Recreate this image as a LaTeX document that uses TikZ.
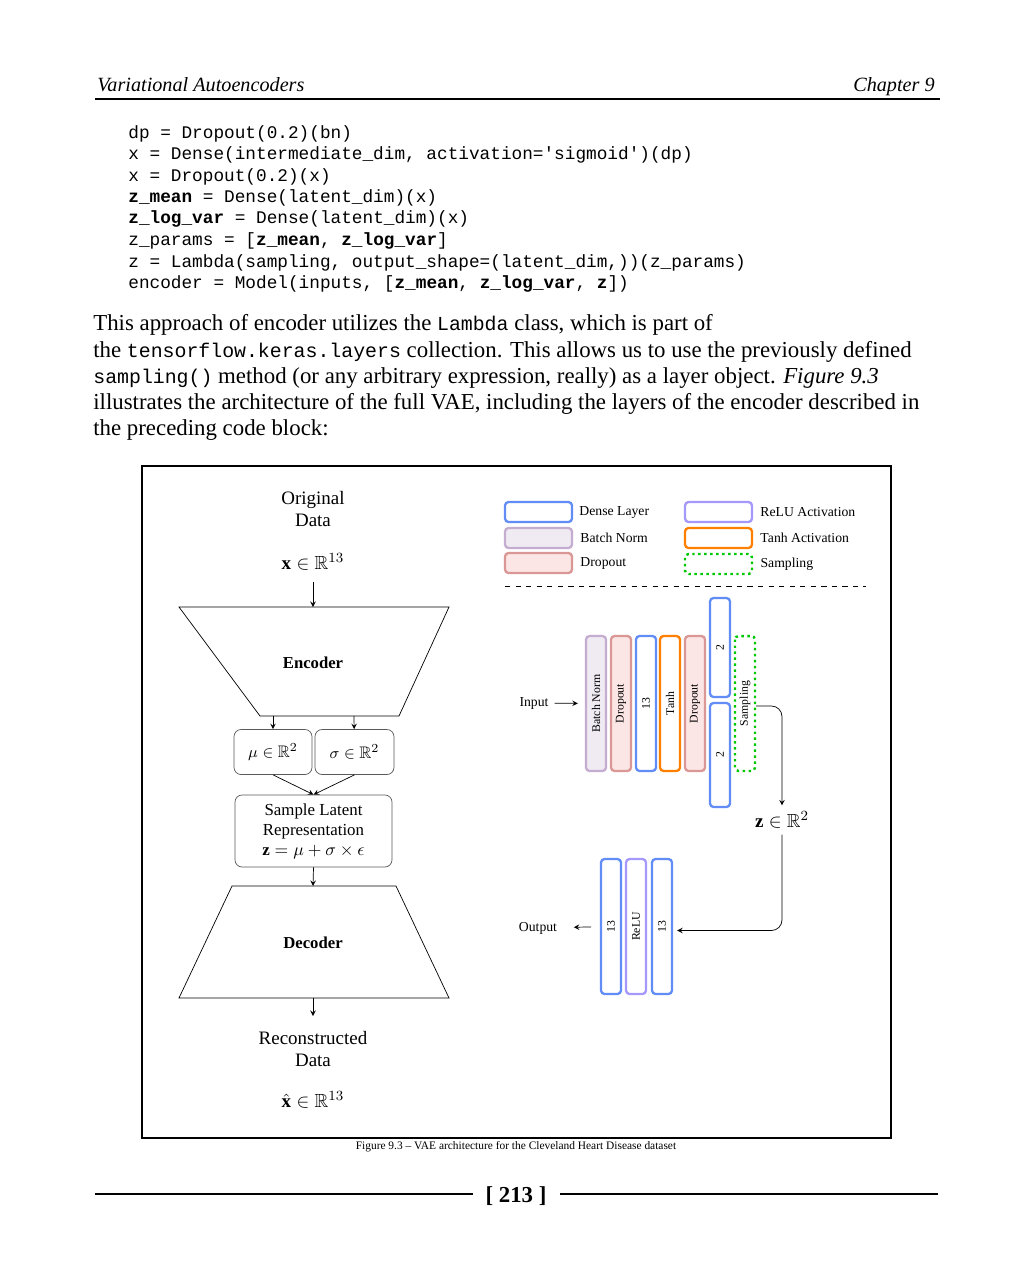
\documentclass[tikz,border=0pt]{standalone}
\usepackage{amsmath}
\usepackage{amssymb}
\usepackage{fontspec}
\setmainfont{Liberation Serif}
\setmonofont{Liberation Mono}
\usetikzlibrary{arrows,shapes,positioning}
\usepackage{xcolor}
\definecolor{vaeblue}{RGB}{99,141,246}
\definecolor{vaepurple}{RGB}{164,152,250}
\definecolor{vaeorange}{RGB}{255,128,0}
\definecolor{vaegreen}{RGB}{0,200,0}
\definecolor{bnstroke}{RGB}{196,173,208}
\definecolor{bnfill}{RGB}{240,235,243}
\definecolor{dpstroke}{RGB}{218,151,149}
\definecolor{dpfill}{RGB}{251,230,229}
\definecolor{boxgray}{RGB}{90,90,90}
\newcommand{\bodyfont}{\fontsize{13}{15}\selectfont}
\newcommand{\bodymono}{\fontsize{11.3}{15}\selectfont\ttfamily}
\newcommand{\codefont}{\fontsize{10.1}{12}\selectfont\ttfamily}
\newcommand{\figfont}{\fontsize{10.8}{13}\selectfont}
\newcommand{\colfont}{\fontsize{6.7}{8}\selectfont}
\newcommand{\lgfont}{\fontsize{7.8}{9}\selectfont}
\tikzstyle{flow} = [->,>=stealth]
\tikzstyle{bodyline} = [anchor=base west, inner sep=0pt, font=\bodyfont]
\tikzstyle{codeline} = [anchor=base west, inner sep=0pt, font=\codefont]
\tikzstyle{denselayer} = [draw=vaeblue, line width=1.3pt, rounded corners=2pt]
\tikzstyle{relulayer} = [draw=vaepurple, line width=1.3pt, rounded corners=2pt]
\tikzstyle{tanhlayer} = [draw=vaeorange, line width=1.3pt, rounded corners=2pt]
\tikzstyle{bnlayer} = [draw=bnstroke, fill=bnfill, line width=1.3pt, rounded corners=2pt]
\tikzstyle{droplayer} = [draw=dpstroke, fill=dpfill, line width=1.3pt, rounded corners=2pt]
\tikzstyle{samplayer} = [draw=vaegreen, line width=1.4pt, dash pattern=on 1.4pt off 2pt, rounded corners=2pt]
\tikzstyle{col} = [minimum width=2.7cm, minimum height=0.4cm, rotate=90, inner sep=0pt, font=\colfont]
\tikzstyle{lgbox} = [minimum width=1.34cm, minimum height=0.4cm]
\tikzstyle{lgtext} = [inner sep=0pt, font=\lgfont]
\tikzstyle{statbox} = [draw=boxgray, rounded corners=4pt, font=\fontsize{9.5}{11}\selectfont]

\begin{document}
\begin{tikzpicture}[x=0.02cm, y=-0.02cm]
\useasboundingbox[fill=white] (0,0) rectangle (1032,1278);

% Running head
\node[anchor=base west, inner sep=0pt, font=\fontsize{11.5}{13}\selectfont\itshape] (runhead) at (97,91) {Variational Autoencoders};
\node[anchor=base east, inner sep=0pt, font=\fontsize{11.5}{13}\selectfont\itshape] (chapter) at (935,91) {Chapter 9};
\draw[line width=0.8pt] (95,99) -- (940,99);

% Code block
\node[codeline] (code1) at (128,138) {dp = Dropout(0.2)(bn)};
\node[codeline] (code2) at (128,159) {x = Dense(intermediate\_dim, activation='sigmoid')(dp)};
\node[codeline] (code3) at (128,181) {x = Dropout(0.2)(x)};
\node[codeline] (code4) at (128,202) {\textbf{z\_mean} = Dense(latent\_dim)(x)};
\node[codeline] (code5) at (128,223) {\textbf{z\_log\_var} = Dense(latent\_dim)(x)};
\node[codeline] (code6) at (128,245) {z\_params = [\textbf{z\_mean}, \textbf{z\_log\_var}]};
\node[codeline] (code7) at (128,267) {z = Lambda(sampling, output\_shape=(latent\_dim,))(z\_params)};
\node[codeline] (code8) at (128,288) {encoder = Model(inputs, [\textbf{z\_mean}, \textbf{z\_log\_var}, \textbf{z}])};

% Paragraph
\node[bodyline] (para1) at (93,330) {This approach of encoder utilizes the {\bodymono Lambda} class, which is part of};
\node[bodyline] (para2) at (93,357) {the {\bodymono tensorflow.keras.layers} collection. This allows us to use the previously defined};
\node[bodyline] (para3) at (93,383) {{\bodymono sampling()} method (or any arbitrary expression, really) as a layer object. \textit{Figure 9.3}};
\node[bodyline] (para4) at (93,409) {illustrates the architecture of the full VAE, including the layers of the encoder described in};
\node[bodyline] (para5) at (93,435) {the preceding code block:};

% Figure frame
\draw[line width=1.2pt] (142,466) rectangle (891,1138);

% Left: encoder / decoder overview
\node[font=\figfont, align=center] (orig) at (313,509) {Original\\Data};
\node[font=\figfont] (xin) at (313,562) {$\mathbf{x}\in\mathbb{R}^{13}$};
\draw (179,607) -- (449,607) -- (399,716) -- (260,716) -- cycle;
\coordinate (enctop) at (313,607);
\coordinate (encmu) at (273,716);
\coordinate (encsig) at (354,716);
\node[font=\fontsize{9.5}{11}\selectfont\bfseries] (enc) at (313,663) {Encoder};
\draw[flow] ([yshift=-0.1cm]xin.south) -- (enctop);

\node[statbox, minimum width=1.56cm, minimum height=0.9cm] (mu) at (273,752) {$\mu\in\mathbb{R}^2$};
\node[statbox, minimum width=1.58cm, minimum height=0.9cm] (sig) at (354.5,752) {$\sigma\in\mathbb{R}^2$};
\draw[flow] (encmu) -- (mu);
\draw[flow] (encsig) -- (sig);

\node[statbox, minimum width=3.14cm, minimum height=1.44cm, align=center, font=\fontsize{9.6}{11.3}\selectfont] (sample) at (313.5,831) {Sample Latent\\Representation\\$\mathbf{z}=\mu+\sigma\times\epsilon$};
\draw[flow] (mu.south) -- (sample.north);
\draw[flow] (sig.south) -- (sample.north);

\draw (232,886) -- (396,886) -- (449,998) -- (179,998) -- cycle;
\coordinate (dectop) at (313,886);
\coordinate (decbot) at (313,998);
\node[font=\fontsize{9.5}{11}\selectfont\bfseries] (dec) at (313,943) {Decoder};
\draw[flow] (sample.south) -- (dectop);

\node[font=\figfont, align=center] (recon) at (313,1049) {Reconstructed\\Data};
\node[font=\figfont] (xhat) at (313,1100) {$\hat{\mathbf{x}}\in\mathbb{R}^{13}$};
\draw[flow] (decbot) -- (313,1016) coordinate (recontop);

% Legend
\node[denselayer, lgbox] (lgdense) at (538.5,512) {};
\node[bnlayer, lgbox] (lgbn) at (538.5,538) {};
\node[droplayer, lgbox] (lgdrop) at (538.5,563) {};
\node[relulayer, lgbox] (lgrelu) at (718.5,512) {};
\node[tanhlayer, lgbox] (lgtanh) at (718.5,538) {};
\node[samplayer, lgbox] (lgsamp) at (718.5,564) {};
\node[lgtext, right=0.12cm of lgdense] {Dense Layer};
\node[lgtext, right=0.14cm of lgbn] {Batch Norm};
\node[lgtext, right=0.14cm of lgdrop] {Dropout};
\node[lgtext, right=0.14cm of lgrelu] {ReLU Activation};
\node[lgtext, right=0.14cm of lgtanh] {Tanh Activation};
\node[lgtext, right=0.14cm of lgsamp] {Sampling};
\draw[dashed] (505,586) -- (866,586);

% Encoder layers
\node[bnlayer, col] (bn) at (596,703.5) {Batch Norm};
\node[droplayer, col] (drop1) at (621,703.5) {Dropout};
\node[denselayer, col] (dense13) at (646,703.5) {13};
\node[tanhlayer, col] (tanh) at (670,703.5) {Tanh};
\node[droplayer, col] (drop2) at (695,703.5) {Dropout};
\node[denselayer, col, minimum width=1.98cm] (zmean) at (720,647.5) {2};
\node[denselayer, col, minimum width=2.08cm] (zvar) at (720,755) {2};
\node[samplayer, col] (samp) at (745,703.5) {Sampling};

\node[font=\lgfont] (input) at (534,703) {Input};
\draw[flow, shorten >=4pt] (input) -- (bn);

\node[font=\figfont] (zlat) at (782,820) {$\mathbf{z}\in\mathbb{R}^2$};
\draw[flow, rounded corners=6pt] ([yshift=-0.05cm]samp.south) -| (zlat.north);

% Decoder layers
\node[denselayer, col] (dec13a) at (611,926.5) {13};
\node[relulayer, col] (relu) at (636,926.5) {ReLU};
\node[denselayer, col] (dec13b) at (662,926.5) {13};
\draw[flow, rounded corners=6pt] (zlat.south) |- ([xshift=0.08cm, yshift=-0.08cm]dec13b.south);

\node[font=\lgfont] (output) at (538,928) {Output};
\draw[flow, shorten <=5pt, shorten >=6pt] (dec13a) -- (output);

% Caption
\node[inner sep=0pt, font=\fontsize{6.5}{8}\selectfont] (caption) at (516,1147) {Figure 9.3 -- VAE architecture for the Cleveland Heart Disease dataset};

% Page number
\node[inner sep=0pt, font=\fontsize{13}{15}\selectfont\bfseries] (pagenum) at (516,1196) {[ 213 ]};
\draw[line width=0.6pt] (95,1194) -- (473,1194);
\draw[line width=0.6pt] (560,1194) -- (938,1194);
\end{tikzpicture}
\end{document}
